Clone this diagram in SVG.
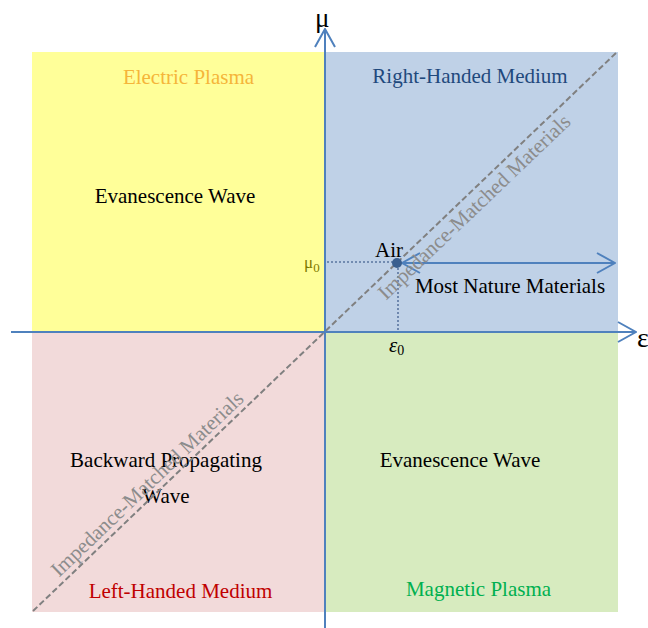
<svg xmlns="http://www.w3.org/2000/svg" width="648" height="628" viewBox="0 0 648 628">
<style>
text{font-family:"Liberation Serif","Times New Roman",serif;font-size:21px;fill:#000}
.mid{text-anchor:middle}
.imp{fill:#8c8c8c;font-size:21px}
.axis{stroke:#4F81BD;stroke-width:2;fill:none}
.dot{stroke:#5a76a0;stroke-width:1.6;stroke-dasharray:2 2;fill:none}
</style>
<defs>
<marker id="chev" markerUnits="userSpaceOnUse" viewBox="0 0 20 22" refX="19" refY="11" markerWidth="20" markerHeight="22" orient="auto-start-reverse">
<path d="M1,1 L19,11 L1,21" fill="none" stroke="#4F81BD" stroke-width="2"/>
</marker>
</defs>
<g id="q-electric-plasma">
<rect x="32" y="52" width="293" height="280" fill="#FFFF99"/>
<text class="mid" x="188.5" y="84" style="fill:#F5B53A">Electric Plasma</text>
<text class="mid" x="175" y="203">Evanescence Wave</text>
</g>
<g id="q-right-handed">
<rect x="325" y="52" width="293" height="280" fill="#BFD1E7"/>
<text class="mid" x="470" y="83" style="fill:#1F497D">Right-Handed Medium</text>
</g>
<g id="q-left-handed">
<rect x="32" y="332" width="293" height="280" fill="#F2DADA"/>
<text class="mid" x="166" y="467">Backward Propagating</text>
<text class="mid" x="166" y="503">Wave</text>
<text class="mid" x="180.5" y="598" style="fill:#C00000">Left-Handed Medium</text>
</g>
<g id="q-magnetic-plasma">
<rect x="325" y="332" width="293" height="280" fill="#D7EBBF"/>
<text class="mid" x="460" y="467">Evanescence Wave</text>
<text class="mid" x="478.5" y="596" style="fill:#00B050">Magnetic Plasma</text>
</g>
<g id="connectors">
<line x1="33" y1="611" x2="617" y2="52" stroke="#808080" stroke-width="2" stroke-dasharray="6 3"/>
<line class="axis" x1="325" y1="628" x2="325" y2="29" marker-end="url(#chev)"/>
<line class="axis" x1="11" y1="332" x2="636" y2="332" marker-end="url(#chev)"/>
<line class="dot" x1="327" y1="262" x2="397" y2="262"/>
<line class="dot" x1="398" y1="264" x2="398" y2="331"/>
<line class="axis" x1="402" y1="263" x2="615" y2="263" marker-start="url(#chev)" marker-end="url(#chev)"/>
</g>
<g id="impedance-labels">
<text class="mid imp" transform="translate(479,212) rotate(-43.7)">Impedance-Matched Materials</text>
<text class="mid imp" transform="translate(152,489) rotate(-43.7)">Impedance-Matched Materials</text>
</g>
<g id="air">
<circle cx="397" cy="263" r="5" fill="#3A5F8F"/>
<text class="mid" x="389" y="257">Air</text>
<text class="mid" x="510" y="293">Most Nature Materials</text>
</g>
<g id="axis-labels">
<text x="315" y="27" style="font-size:27px">μ</text>
<text x="637" y="347" style="font-size:28px">ε</text>
<text x="304" y="268" style="fill:#7F7A00;font-size:17px">μ<tspan dy="4" style="font-size:13px">0</tspan></text>
<text x="389" y="352" style="font-style:italic;font-size:21px">ε<tspan dy="3" style="font-style:normal;font-size:14px">0</tspan></text>
</g>
</svg>
